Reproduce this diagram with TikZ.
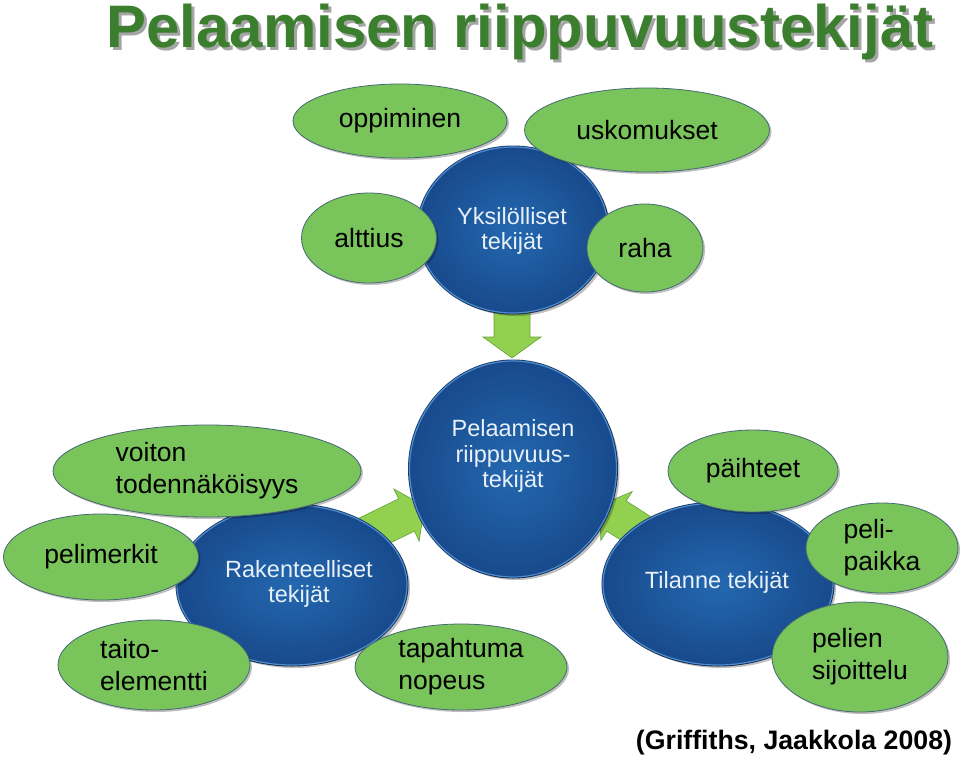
\documentclass[tikz,border=0pt]{standalone}
\usepackage{fontspec}
\setmainfont{Liberation Sans}
\usetikzlibrary{shapes.geometric,shadows}
\definecolor{gfill}{RGB}{122,196,92}
\definecolor{gline}{RGB}{70,105,115}
\definecolor{afill}{RGB}{146,208,80}
\definecolor{aline}{RGB}{105,160,60}
\definecolor{bin}{RGB}{36,104,176}
\definecolor{bout}{RGB}{24,74,140}
\definecolor{bdark}{RGB}{22,60,110}
\definecolor{brim}{RGB}{80,140,205}
\definecolor{btxt}{RGB}{232,240,248}
\definecolor{tgreen}{RGB}{58,126,46}
\definecolor{tshadow}{RGB}{165,165,165}
\tikzset{
  gell/.style n args={2}{ellipse, draw=gline, line width=0.8pt, fill=gfill,
    minimum width=#1, minimum height=#2, inner sep=0pt, align=left,
    font=\fontsize{26.5}{32}\selectfont,
    drop shadow={shadow xshift=2pt, shadow yshift=-2pt, opacity=.25, fill=black}},
  bcirc/.style n args={2}{ellipse, minimum width=#1, minimum height=#2, inner sep=0pt,
    shade, inner color=bin, outer color=bout,
    preaction={draw=bdark, line width=3pt},
    draw=brim, line width=1.2pt,
    drop shadow={shadow xshift=3pt, shadow yshift=-3pt, opacity=.25, fill=black}},
  btext/.style={text=btxt, align=center, font=\fontsize{23.5}{25.5}\selectfont},
  garrow/.style={fill=afill, draw=aline, line width=0.6pt, line join=miter},
  titletext/.style={font=\fontsize{60}{60}\selectfont\bfseries, anchor=base},
  cite/.style={font=\fontsize{26.7}{30}\selectfont\bfseries, anchor=base}
}
\begin{document}
\begin{tikzpicture}[x=1pt,y=-1pt]
\useasboundingbox (0,0) rectangle (960,757);
\fill[white] (0,0) rectangle (960,757);

% title
\node[titletext, text=tshadow] (titleshadow) at (523,51) {Pelaamisen riippuvuustekijät};
\node[titletext, text=tgreen] (title) at (520,48) {Pelaamisen riippuvuustekijät};

% block arrows
\draw[garrow] (512,358) -- (541,337) -- (530,337) -- (530,300) -- (494,300) -- (494,337) -- (483,337) -- cycle;
\draw[garrow] (424.5,506) -- (419.2,541.1) -- (414.4,531.2) -- (369.4,553.2) -- (353.6,520.8) -- (398.6,498.8) -- (393.8,488.9) -- cycle;
\draw[garrow] (599.7,505.2) -- (600.8,540.4) -- (606.8,531.1) -- (653,560.8) -- (672.4,530.6) -- (626.2,500.9) -- (632.2,491.6) -- cycle;

% blue circles
\node[bcirc={190pt}{166pt}] (yks) at (513,230) {};
\node[bcirc={207pt}{216pt}] (cen) at (513,469) {};
\node[bcirc={230pt}{160pt}] (rak) at (292,585) {};
\node[bcirc={230pt}{162pt}] (til) at (718,584) {};

\node[btext] (yksT) at (512,231) {Yksilölliset\\tekijät};
\node[btext] (cenT) at (513,456) {Pelaamisen\\riippuvuus-\\tekijät};
\node[btext] (rakT) at (299,584) {Rakenteelliset\\tekijät};
\node[btext] (tilT) at (717,582) {Tilanne tekijät};

% green ellipses
\node[gell={214pt}{74pt}] (opp) at (400,121) {oppiminen};
\node[gell={245pt}{84pt}] (usk) at (647,130) {uskomukset};
\node[gell={135pt}{90pt}] (alt) at (369,238) {alttius};
\node[gell={116pt}{88pt}] (rah) at (645,248) {raha};
\node[gell={308pt}{92pt}] (voi) at (207,471) {voiton\\todennäköisyys};
\node[gell={195pt}{86pt}] (pel) at (101,557) {pelimerkit};
\node[gell={192pt}{90pt}] (tai) at (154,665) {taito-\\elementti};
\node[gell={212pt}{86pt}] (tap) at (461,667) {tapahtuma\\nopeus};
\node[gell={170pt}{82pt}] (pai) at (753,471) {päihteet};
\node[gell={152pt}{90pt}] (pp) at (882,548) {peli-\\paikka};
\node[gell={176pt}{110pt}] (sij) at (860,657) {pelien\\sijoittelu};

% citation
\node[cite] (ref) at (794,749) {(Griffiths, Jaakkola 2008)};
\end{tikzpicture}
\end{document}
